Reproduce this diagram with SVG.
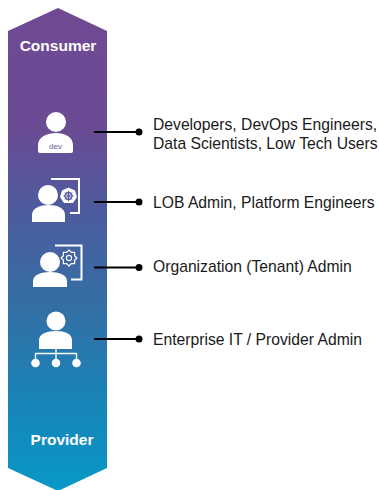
<svg xmlns="http://www.w3.org/2000/svg" width="379" height="490" viewBox="0 0 379 490">
<style>
.t{font-family:"Liberation Sans",Arial,sans-serif;font-size:15.7px;fill:#1a1a1a}
.h{font-family:"Liberation Sans",Arial,sans-serif;font-size:15.5px;font-weight:bold;fill:#fff;text-anchor:middle}
.c{stroke:#000;stroke-width:2;fill:none}
.w{fill:#fff}
.l{fill:none;stroke:#fff}
</style>
<defs>
<linearGradient id="g" x1="0" y1="0" x2="0" y2="1">
<stop offset="0" stop-color="#6f4a93"/>
<stop offset="0.25" stop-color="#6a4b94"/>
<stop offset="0.42" stop-color="#4d5b9e"/>
<stop offset="0.62" stop-color="#336fa5"/>
<stop offset="0.85" stop-color="#1488bb"/>
<stop offset="1" stop-color="#0899c6"/>
</linearGradient>
</defs>
<g id="band">
<path d="M8 31 L58 8 L107 31 V468 L58 491 L8 468 Z" fill="url(#g)"/>
<text class="h" x="58" y="51">Consumer</text>
<text class="h" x="62" y="445">Provider</text>
</g>
<g id="connectors">
<path class="c" d="M94 132H139"/><circle cx="139" cy="132" r="3.5"/>
<path class="c" d="M94 202H139"/><circle cx="139" cy="202" r="3.5"/>
<path class="c" d="M94 267.500H139"/><circle cx="139" cy="267.500" r="3.5"/>
<path class="c" d="M94 339H139"/><circle cx="139" cy="339" r="3.5"/>
</g>
<g id="dev">
<circle class="w" cx="56" cy="122" r="10"/>
<path class="w" d="M38 153V145C38 137 47 133 56 133C65 133 73 137 73 145V151Q73 153 71 153H40Q38 153 38 151Z"/>
<text x="55.500" y="149" text-anchor="middle" font-family="Liberation Sans,sans-serif" font-size="8" fill="#6a5aa0">dev</text>
</g>
<g id="lob">
<path class="l" stroke-width="2" d="M51 179H79V213H70"/>
<circle class="w" cx="48" cy="195" r="10"/>
<path class="w" d="M32 222V215C32 208 40 205 49 205C57 205 65 208 65 215V222Z"/>
<path class="w" d="M68.500 187.500L75 190.500L77 197L73 203H64L60 197L62 190.500Z"/>
<circle cx="68.500" cy="196" r="3.500" fill="none" stroke="#5a5a9f" stroke-width="1.400"/>
<path stroke="#5a5a9f" stroke-width="1" d="M68.500 191V201M63.500 196H73.500M65 192.500L72 199.500M72 192.500L65 199.500"/>
</g>
<g id="org">
<path class="l" stroke-width="2" d="M55 245.500H81.500V279.500H71"/>
<circle class="w" cx="50" cy="262" r="10"/>
<path class="w" d="M33 287V281C33 275 41 272 50 272C59 272 67 275 67 281V287Z"/>
<circle class="l" cx="69" cy="258" r="2.600" stroke-width="1.100"/>
<path class="l" stroke-width="1.200" stroke-linejoin="round" d="M77 258L74.540 260.300L74.660 263.660L71.300 263.540L69 266L66.700 263.540L63.340 263.660L63.460 260.300L61 258L63.460 255.700L63.340 252.340L66.700 252.460L69 250L71.300 252.460L74.660 252.340L74.540 255.700Z"/>
</g>
<g id="provider">
<circle class="w" cx="56" cy="321" r="9.500"/>
<path class="w" d="M39 349V340C39 334 47 331 56 331C65 331 72 334 72 340V349Z"/>
<path class="l" stroke-width="1.300" d="M35.500 361V353.500H76.500V361M56 349V361"/>
<circle class="w" cx="35.500" cy="363" r="4.300"/>
<circle class="w" cx="56" cy="363" r="4.300"/>
<circle class="w" cx="76.500" cy="363" r="4.300"/>
</g>
<g id="labels">
<text class="t" x="153" y="130">Developers, DevOps Engineers,</text>
<text class="t" x="153" y="149">Data Scientists, Low Tech Users</text>
<text class="t" x="153" y="208">LOB Admin, Platform Engineers</text>
<text class="t" x="153" y="272">Organization (Tenant) Admin</text>
<text class="t" x="153" y="345">Enterprise IT / Provider Admin</text>
</g>
</svg>
